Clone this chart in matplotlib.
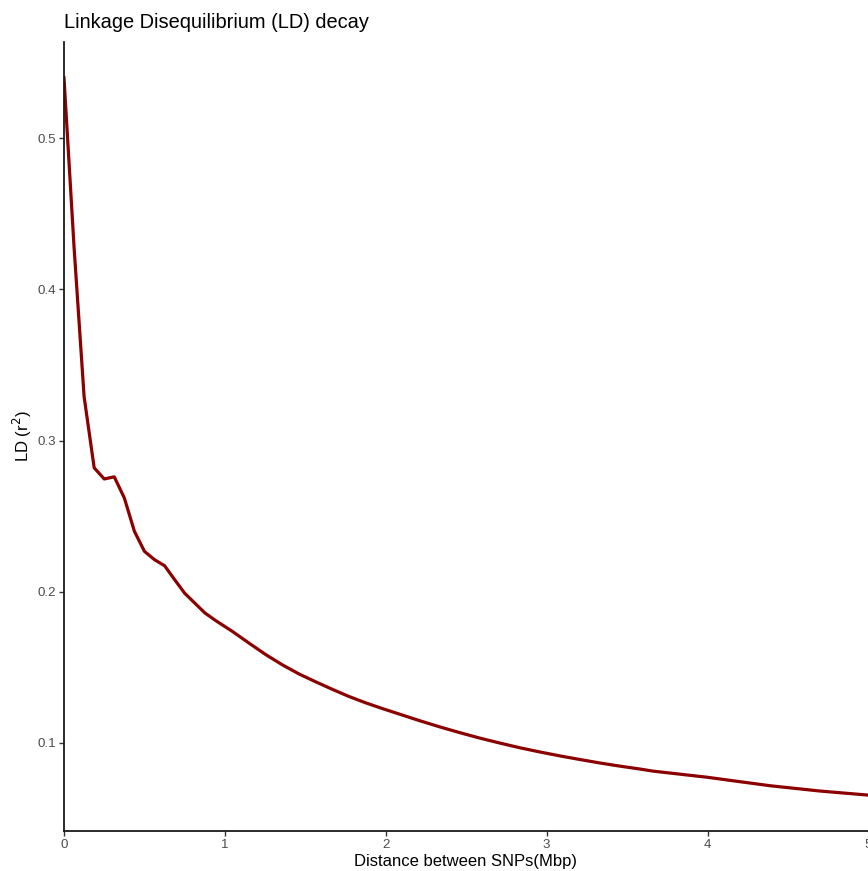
import numpy as np
import matplotlib
matplotlib.use("Agg")
import matplotlib.pyplot as plt

plt.rcParams['font.family'] = ['Liberation Sans', 'DejaVu Sans']

# distance between SNPs (Mbp) and mean r^2
dist_mbp = [0, 0.0625, 0.125, 0.1875, 0.25, 0.3125, 0.375, 0.4375, 0.5, 0.5625,
            0.625, 0.6875, 0.75, 0.8125, 0.875, 0.944, 1.047, 1.151, 1.255, 1.359,
            1.462, 1.566, 1.670, 1.773, 1.877, 1.981, 2.085, 2.209, 2.334, 2.458,
            2.582, 2.707, 2.831, 2.956, 3.080, 3.205, 3.329, 3.454, 3.578, 3.66,
            4.0, 4.18, 4.39, 4.70, 5.0]
ld_r2 = [0.540, 0.428, 0.329, 0.282, 0.2746, 0.276, 0.262, 0.240, 0.2267, 0.2212,
         0.2172, 0.208, 0.199, 0.1925, 0.186, 0.1808, 0.1737, 0.1659, 0.1583, 0.1515,
         0.1455, 0.1403, 0.1353, 0.1306, 0.1264, 0.1226, 0.1190, 0.1147, 0.1106, 0.1068,
         0.1032, 0.0999, 0.0968, 0.0940, 0.0914, 0.0890, 0.0867, 0.0846, 0.0827, 0.0813,
         0.0772, 0.0746, 0.0716, 0.0681, 0.0654]

x_ticks = [0, 1, 2, 3, 4, 5]
y_ticks = [0.1, 0.2, 0.3, 0.4, 0.5]

W, H = 868, 871
fig = plt.figure(figsize=(W/100, H/100), dpi=100)
ax = fig.add_axes([64/W, 1 - 831/H, (868.5 - 64)/W, (831 - 42)/H])

ax.plot(dist_mbp, ld_r2, color='#8B0000', linewidth=2.3)

ymin, ymax = min(ld_r2), max(ld_r2)
pad = 0.05*(ymax - ymin)
ax.set_ylim(ymin - pad, ymax + pad)
ax.set_xlim(0, 5)
ax.set_xticks(x_ticks)
ax.set_yticks(y_ticks)
ax.set_xticklabels([str(t) for t in x_ticks])
ax.set_yticklabels([f"{t:.1f}" for t in y_ticks])

for s in ['top', 'right']:
    ax.spines[s].set_visible(False)
for s in ['left', 'bottom']:
    ax.spines[s].set_linewidth(1.3)
    ax.spines[s].set_color('#1a1a1a')
ax.tick_params(length=3.5, width=1.0, color='#333333', labelcolor='#4D4D4D',
               labelsize=9.6, pad=2.5)

fig.text(64/W, 1 - 28/H, 'Linkage Disequilibrium (LD) decay', fontsize=14.4,
         ha='left', va='baseline', color='black')
fig.text(465/W, 1 - 861/H, 'Distance between SNPs(Mbp)', fontsize=12,
         ha='center', va='center', color='black')
fig.text(22/W, 1 - 436/H, 'LD (r$^2$)', fontsize=12, rotation=90,
         ha='center', va='center', color='black')

fig.savefig('out.png', dpi=100)
